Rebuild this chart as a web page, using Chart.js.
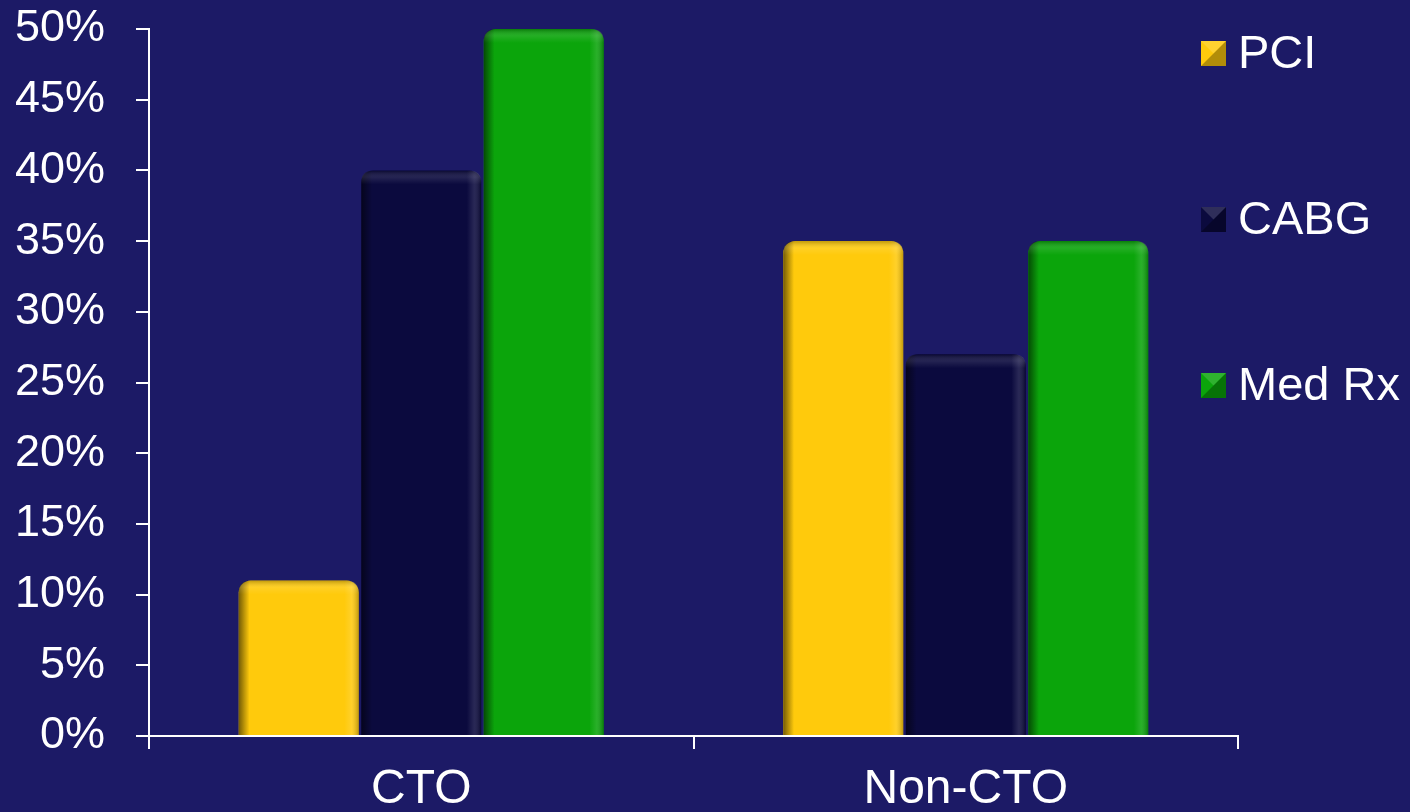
<!DOCTYPE html>
<html>
<head>
<meta charset="utf-8">
<script src="https://cdn.jsdelivr.net/npm/chart.js@4/dist/chart.umd.min.js"></script>
<style>
  html, body { margin: 0; padding: 0; background: #1c1a66; }
  #wrap { width: 1410px; height: 812px; }
</style>
</head>
<body>
<div id="wrap"><canvas id="chart"></canvas></div>
<script>
const categories = ['CTO', 'Non-CTO'];
const pci = [11, 35];
const cabg = [40, 27];
const medRx = [50, 35];
const seriesNames = ['PCI', 'CABG', 'Med Rx'];
const seriesColors = ['#ffca0c', '#0b0a3e', '#0ba50b'];

const FONT = '"Liberation Sans", Arial, sans-serif';

// horizontal shading over each bar so they look rounded
const barShade = {
  id: 'barShade',
  afterDatasetDraw(chart, args) {
    const ctx = chart.ctx;
    const meta = args.meta;
    meta.data.forEach(bar => {
      const left = bar.x - bar.width / 2;
      const right = bar.x + bar.width / 2;
      const top = bar.y, bottom = bar.base;
      const r = 12;
      ctx.save();
      ctx.beginPath();
      ctx.moveTo(left, bottom);
      ctx.lineTo(left, top + r);
      ctx.quadraticCurveTo(left, top, left + r, top);
      ctx.lineTo(right - r, top);
      ctx.quadraticCurveTo(right, top, right, top + r);
      ctx.lineTo(right, bottom);
      ctx.closePath();
      ctx.clip();
      const g = ctx.createLinearGradient(left, 0, right, 0);
      g.addColorStop(0, 'rgba(0,0,0,0.55)');
      g.addColorStop(0.09, 'rgba(0,0,0,0)');
      g.addColorStop(0.88, 'rgba(255,255,255,0)');
      g.addColorStop(0.94, 'rgba(255,255,255,0.12)');
      g.addColorStop(1, 'rgba(0,0,0,0.25)');
      ctx.fillStyle = g;
      ctx.fillRect(left, top, right - left, bottom - top);
      const v = ctx.createLinearGradient(0, top, 0, top + 14);
      v.addColorStop(0, 'rgba(0,0,0,0.25)');
      v.addColorStop(0.5, 'rgba(255,255,255,0.1)');
      v.addColorStop(1, 'rgba(255,255,255,0)');
      ctx.fillStyle = v;
      ctx.fillRect(left, top, right - left, 14);
      ctx.restore();
    });
  }
};

// legend drawn at the right, overlapping the plot's right margin
const sideLegend = {
  id: 'sideLegend',
  afterDraw(chart) {
    const ctx = chart.ctx;
    const ys = [53, 219, 385];
    ctx.save();
    ctx.font = '47px ' + FONT;
    ctx.textBaseline = 'middle';
    chart.data.datasets.forEach((ds, i) => {
      const x = 1201, y = ys[i] - 12, s = 25;
      ctx.fillStyle = ds.backgroundColor;
      ctx.fillRect(x, y, s, s);
      // bevelled look: darker lower-right half
      ctx.fillStyle = 'rgba(0,0,0,0.3)';
      ctx.beginPath();
      ctx.moveTo(x + s, y);
      ctx.lineTo(x + s, y + s);
      ctx.lineTo(x, y + s);
      ctx.lineTo(x + s / 2, y + s / 2);
      ctx.closePath();
      ctx.fill();
      ctx.fillStyle = 'rgba(255,255,255,0.15)';
      ctx.beginPath();
      ctx.moveTo(x, y);
      ctx.lineTo(x + s, y);
      ctx.lineTo(x + s / 2, y + s / 2);
      ctx.closePath();
      ctx.fill();
      ctx.fillStyle = '#ffffff';
      ctx.fillText(ds.label, 1238, ys[i] + 2);
    });
    ctx.restore();
  }
};

const seriesData = [pci, cabg, medRx];

new Chart(document.getElementById('chart'), {
  type: 'bar',
  data: {
    labels: categories,
    datasets: seriesData.map((d, i) => ({
      label: seriesNames[i],
      data: d,
      backgroundColor: seriesColors[i],
      borderWidth: 0,
      borderRadius: { topLeft: 12, topRight: 12, bottomLeft: 0, bottomRight: 0 },
      borderSkipped: 'bottom',
      barPercentage: 0.98,
      categoryPercentage: 0.675
    }))
  },
  options: {
    responsive: true,
    maintainAspectRatio: false,
    animation: false,
    layout: { padding: { left: 15, right: 172, top: 29, bottom: 0 } },
    plugins: {
      legend: { display: false },
      tooltip: { enabled: false }
    },
    scales: {
      x: {
        afterFit: scale => { scale.height = 76; scale.paddingLeft = 0; scale.paddingRight = 0; },
        grid: {
          display: true,
          offset: true,
          drawOnChartArea: false,
          color: '#ffffff',
          lineWidth: 2,
          tickLength: 13
        },
        border: { color: '#ffffff', width: 2 },
        ticks: {
          color: '#ffffff',
          font: { family: FONT, size: 48, lineHeight: 1 },
          padding: 17
        }
      },
      y: {
        min: 0,
        max: 50,
        afterFit: scale => {
          scale.width = 134;
          scale.paddingTop = 0;
          scale.paddingBottom = 0;
        },
        grid: {
          display: true,
          drawOnChartArea: false,
          color: '#ffffff',
          lineWidth: 2,
          tickLength: 13
        },
        border: { color: '#ffffff', width: 2 },
        ticks: {
          stepSize: 5,
          color: '#ffffff',
          padding: 31,
          font: { family: FONT, size: 45 },
          callback: v => v + '%'
        }
      }
    }
  },
  plugins: [barShade, sideLegend]
});
</script>
</body>
</html>
